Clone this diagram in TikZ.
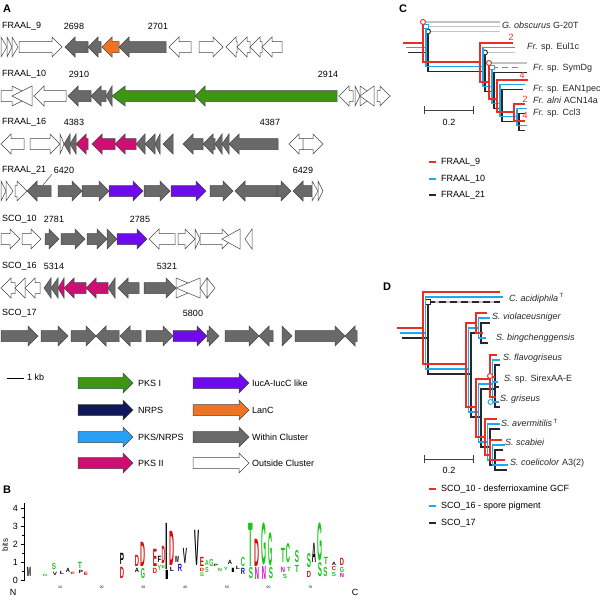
\documentclass[tikz,border=0pt]{standalone}
\usepackage{fontspec}
\setmainfont{Liberation Sans}
\usepackage{graphicx}
\usetikzlibrary{positioning}

\definecolor{pksIc}{RGB}{60,150,20}
\definecolor{nrpsc}{RGB}{15,25,90}
\definecolor{hybc}{RGB}{40,160,245}
\definecolor{pksIIc}{RGB}{205,15,115}
\definecolor{iucc}{RGB}{110,10,235}
\definecolor{lancc}{RGB}{240,115,35}
\definecolor{withinc}{RGB}{105,105,105}
\definecolor{edgec}{RGB}{70,70,70}
\definecolor{tred}{RGB}{235,45,35}
\definecolor{tblue}{RGB}{25,170,240}
\definecolor{tblack}{RGB}{40,40,40}
\definecolor{tgray}{RGB}{195,195,195}
\definecolor{lgreen}{RGB}{20,200,20}
\definecolor{lred}{RGB}{215,10,10}
\definecolor{lblue}{RGB}{10,10,210}
\definecolor{lmag}{RGB}{205,0,205}

\newcommand{\lab}{\fontsize{9}{10.5}\selectfont}
% gene arrows: [head]{left}{right}{row y}{style}
\newcommand{\gR}[5][10]{%
  \pgfmathsetmacro{\gtip}{max(#2,#3-#1)}%
  \draw[gene,#5] (#2,#4-5.5) -- (\gtip,#4-5.5) -- (\gtip,#4-10) -- (#3,#4)
    -- (\gtip,#4+10) -- (\gtip,#4+5.5) -- (#2,#4+5.5) -- cycle;}
\newcommand{\gL}[5][10]{%
  \pgfmathsetmacro{\gtip}{min(#3,#2+#1)}%
  \draw[gene,#5] (#3,#4-5.5) -- (\gtip,#4-5.5) -- (\gtip,#4-10) -- (#2,#4)
    -- (\gtip,#4+10) -- (\gtip,#4+5.5) -- (#3,#4+5.5) -- cycle;}
% logo letter: [width]{x}{bottom}{height}{colour}{letter}
\newcommand{\seqlet}[6][4.2]{\node[inner sep=0pt,anchor=south,text=#5] at (#2,#3-0.4)
  {\resizebox*{#1pt}{\dimexpr#4pt-0.8pt\relax}{\bfseries #6}};}

\begin{document}
\begin{tikzpicture}[x=1pt,y=-1pt,
  every node/.style={font=\lab,inner sep=0pt},
  panel/.style={font=\fontsize{11}{12}\selectfont\bfseries},
  gene/.style={draw=edgec,line width=0.5pt,line join=miter},
  outg/.style={fill=white}, ing/.style={fill=withinc},
  pksIg/.style={fill=pksIc}, nrpsg/.style={fill=nrpsc},
  hybg/.style={fill=hybc}, pksIIg/.style={fill=pksIIc},
  iucg/.style={fill=iucc}, lancg/.style={fill=lancc},
  br/.style={line width=1.1pt},
  cmark/.style={circle,draw,fill=white,line width=0.9pt,minimum size=5pt},
  smark/.style={rectangle,draw,fill=white,line width=0.9pt,minimum size=4.5pt},
  taxon/.style={anchor=west,text=black!85},
]
\useasboundingbox (0,0) rectangle (600,600);

%% panel A
\node[panel] (pA) at (7,9) {A};
\node[anchor=west] (c9) at (2,26) {FRAAL\_9};
\node (n2698) at (74,26) {2698};
\node (n2701) at (158,26) {2701};
\gR{1}{7}{47}{outg} \gR{7}{12}{47}{outg} \gR{12}{18}{47}{outg}
\gR{19}{62}{47}{outg}
\gL{65}{88}{47}{ing} \gL{88}{101}{47}{ing} \gL{102}{119}{47}{lancg}
\gL{119}{166}{47}{ing}
\gL{169}{191}{47}{outg} \gR{199}{223}{47}{outg}
\gL{226}{237}{47}{outg} \gL{237}{250}{47}{outg} \gL{250}{262}{47}{outg}
\gL{262}{282}{47}{outg}

\node[anchor=west] (c10) at (2,74) {FRAAL\_10};
\node (n2910) at (79,74) {2910};
\node (n2914) at (328,74) {2914};
\gR[20]{1}{32}{96}{outg} \gL[20]{12}{32}{96}{outg}
\gL{34}{66}{96}{outg}
\gL{68}{91}{96}{ing} \gL{91}{106}{96}{ing} \gL{106}{112}{96}{ing}
\gL[13]{112}{195}{96}{pksIg} \gL{195}{337}{96}{pksIg}
\gL{339}{353}{96}{outg} \gR{355}{360}{96}{outg}
\gR[14]{360}{374}{96}{outg} \gL[14]{360}{374}{96}{outg}
\gR{377}{390}{96}{outg}

\node[anchor=west] (c16) at (2,122) {FRAAL\_16};
\node (n4383) at (74,122) {4383};
\node (n4387) at (270,122) {4387};
\gL{1}{24}{144}{outg} \gR{30}{60}{144}{outg} \gR{60}{64}{144}{outg}
\gL{64}{70}{144}{ing} \gL{70}{76}{144}{ing}
\gL{76}{88}{144}{pksIIg} \gL{92}{115}{144}{pksIIg} \gL{115}{136}{144}{pksIIg}
\gL{136}{145}{144}{ing} \gL{145}{155}{144}{ing} \gL{155}{160}{144}{ing}
\gL{163}{173}{144}{ing}
\gL{183}{203}{144}{ing} \gL{203}{215}{144}{ing} \gL{215}{222}{144}{ing}
\gL{222}{229}{144}{ing} \gL{229}{278}{144}{ing}
\gL{289}{303}{144}{outg} \gR{303}{323}{144}{outg}

\node[anchor=west] (c21) at (2,170) {FRAAL\_21};
\node (n6420) at (64,170) {6420};
\node (n6429) at (303,170) {6429};
\draw[edgec,line width=0.5pt] (n6420.south west) ++(-2,1) coordinate (lead) -- (43,185);
\gR{1}{6}{191}{outg} \gR{6}{13}{191}{outg} \gR{15}{27}{191}{outg}
\gL{27}{51}{191}{ing}
\gR{58}{82}{191}{ing} \gR{82}{109}{191}{ing} \gR{109}{143}{191}{iucg}
\gR{144}{170}{191}{ing} \gR{171}{206}{191}{iucg}
\gR{210}{233}{191}{ing} \gL{235}{277}{191}{ing} \gR{277}{291}{191}{ing}
\gL{293}{312}{191}{ing}
\gR{312}{318}{191}{outg} \gR{318}{323}{191}{outg}

\node[anchor=west] (s10) at (2,219) {SCO\_10};
\node (n2781) at (54,219) {2781};
\node (n2785) at (140,219) {2785};
\gR{1}{20}{239}{outg} \gR{22}{41}{239}{outg}
\gR{45}{59}{239}{ing} \gR{61}{85}{239}{ing} \gR{87}{107}{239}{ing}
\gR{107}{117}{239}{ing} \gR{117}{147}{239}{iucg}
\gL{149}{175}{239}{outg} \gR{178}{195}{239}{outg} \gR{195}{200}{239}{outg}
\gR{200}{232}{239}{outg} \gL[18]{222}{240}{239}{outg}
\gL{245}{252}{239}{outg}

\node[anchor=west] (s16) at (2,266) {SCO\_16};
\node (n5314) at (54,266) {5314};
\node (n5321) at (167,266) {5321};
\gL{1}{15}{288}{outg} \gL{15}{25}{288}{outg} \gL{25}{40}{288}{outg}
\gL{44}{51}{288}{ing} \gL{51}{58}{288}{ing} \gL{58}{64}{288}{pksIIg}
\gL{64}{86}{288}{pksIIg} \gL{86}{108}{288}{pksIIg}
\gL{108}{115}{288}{ing} \gL{118}{139}{288}{ing} \gR{144}{176}{288}{ing}
\gR[24]{176}{200}{288}{outg} \gL[24]{176}{200}{288}{outg}
\gL{200}{207}{288}{outg} \gR{207}{215}{288}{outg}

\node[anchor=west] (s17) at (2,313) {SCO\_17};
\node (n5800) at (193,313) {5800};
\gR{1}{38}{336}{ing} \gR{41}{68}{336}{ing} \gR{71}{96}{336}{ing}
\gL{96}{119}{336}{ing} \gL{120}{141}{336}{ing} \gR{146}{173}{336}{ing}
\gR{173}{207}{336}{iucg} \gR{207}{219}{336}{ing}
\gR{225}{259}{336}{ing} \gL{259}{273}{336}{ing}
\gR{282}{292}{336}{ing} \gR{295}{345}{336}{ing} \gL{345}{357}{336}{ing}

% scale and legend
\coordinate (kb0) at (7,378);
\coordinate (kb1) at (24,378);
\draw[line width=0.8pt] (kb0) -- (kb1);
\node[anchor=west] (kb) at (27,377) {1 kb};
\gR{78}{133}{383}{pksIg}  \node[anchor=west] (l1) at (138,383) {PKS I};
\gR{78}{133}{410}{nrpsg}  \node[anchor=west] (l2) at (138,410) {NRPS};
\gR{78}{133}{437}{hybg}   \node[anchor=west] (l3) at (138,437) {PKS/NRPS};
\gR{78}{133}{463}{pksIIg} \node[anchor=west] (l4) at (138,463) {PKS II};
\gR{193}{249}{383}{iucg}  \node[anchor=west] (l5) at (252,383) {IucA-IucC like};
\gR{193}{249}{410}{lancg} \node[anchor=west] (l6) at (252,410) {LanC};
\gR{193}{249}{437}{ing}   \node[anchor=west] (l7) at (252,437) {Within Cluster};
\gR{193}{249}{463}{outg}  \node[anchor=west] (l8) at (252,463) {Outside Cluster};

%% panel B
\node[panel] (pB) at (7,490) {B};
\draw[line width=0.6pt] (24,503) -- (24,581);
\foreach \b in {0,...,4} {
  \draw[line width=0.6pt] (24,580-18*\b) -- (20.5,580-18*\b);
  \node[anchor=east] (t\b) at (18,580-18*\b) {\b};
}
\foreach \b in {0.5,1.5,2.5,3.5} \draw[line width=0.5pt] (24,580-18*\b) -- (22.3,580-18*\b);
\node[rotate=90,font=\fontsize{8}{9}\selectfont] (bits) at (5,545) {bits};
\node (nN) at (13,592) {N};
\node (nC) at (355,592) {C};
\foreach \p in {10,20,...,70}
  \node[font=\fontsize{3.5}{4}\selectfont] at ({60+(\p-10)*4.17},587.5) {\p};
\seqlet{29}{577}{10}{black}{M}
\seqlet{45}{577}{3}{lgreen}{N}
\seqlet{54}{570}{7}{lgreen}{S} \seqlet{55}{576}{4}{black}{V}
\seqlet{62}{575}{4}{black}{L}
\seqlet{68}{573}{5}{black}{A} \seqlet{73}{575}{3}{lred}{E}
\seqlet{80}{569}{7}{lgreen}{T} \seqlet{81}{574}{4}{black}{P} \seqlet{86}{576}{4}{lred}{E}
\seqlet{122}{565}{12}{black}{P} \seqlet{122}{579}{12}{lred}{D}
\seqlet{137}{567}{12}{lred}{D} \seqlet{137}{573}{5}{black}{A}
\seqlet[5]{143}{567}{25}{lred}{D} \seqlet{143}{579}{11}{lgreen}{G}
\seqlet{155}{567}{18}{lred}{E} \seqlet{155}{574}{6}{lred}{D}
\seqlet[3.6]{159.5}{563}{7}{black}{F} \seqlet[3.6]{159.5}{571}{6}{lgreen}{Y}
\seqlet[3.6]{163.5}{564}{18}{lred}{D} \seqlet[3.6]{163.5}{569}{4}{lgreen}{E}
\seqlet[2.5]{167}{570}{47}{black}{I} \seqlet[4.6]{167}{580}{10}{black}{I}
\seqlet[5]{172}{566}{35}{lred}{D} \seqlet{172}{572}{5}{black}{L}
\seqlet{177}{563}{7}{black}{W} \seqlet{180}{572}{8}{lblue}{R}
\seqlet{185}{564}{16}{black}{V}
\seqlet[5]{197}{566}{36}{black}{V} \seqlet{202}{567}{10}{lred}{E}
\seqlet{202}{572}{4}{lred}{D} \seqlet{202}{577}{4.5}{lgreen}{S}
\seqlet[3.6]{207}{566}{6}{lgreen}{A} \seqlet[3.6]{207}{573}{6}{lgreen}{S}
\seqlet{211.5}{567}{8}{lgreen}{G}
\seqlet{216}{567}{3}{black}{P} \seqlet{220}{572}{4}{lgreen}{N} \seqlet{226}{571}{4}{lgreen}{Y}
\seqlet{230}{565}{5}{black}{A} \seqlet{233}{573}{5}{black}{I} \seqlet{238}{570}{4}{black}{L}
\seqlet{243}{567}{10}{lgreen}{C} \seqlet{243}{575}{7}{lblue}{R}
\seqlet[4.6]{251}{567}{44}{lgreen}{T} \seqlet{251}{579}{12}{lgreen}{S}
\seqlet[5]{257}{567}{28}{lred}{D} \seqlet{257}{580}{13}{lmag}{N}
\seqlet[5]{264}{566}{43}{lgreen}{G} \seqlet{264}{580}{14}{lmag}{N}
\seqlet{271}{567}{34}{lgreen}{G} \seqlet{271}{579}{12}{lgreen}{S}
\seqlet{283}{563}{15}{lgreen}{T} \seqlet{283}{573}{6}{lmag}{N} \seqlet{285}{579}{5}{lgreen}{S}
\seqlet{288}{563}{20}{lgreen}{C} \seqlet{289}{572}{5}{lgreen}{T}
\seqlet{297}{563}{13}{lgreen}{S} \seqlet{297}{573}{8}{lgreen}{T}
\seqlet{309}{568}{15}{lgreen}{S} \seqlet{309}{578}{7}{lred}{D}
\seqlet{314}{563}{20}{black}{A}
\seqlet[5]{319.5}{562}{39}{lgreen}{G} \seqlet{320}{577}{15}{lgreen}{S}
\seqlet{326}{565}{8}{lgreen}{T} \seqlet{325.5}{577}{10}{lgreen}{S}
\seqlet{334}{566}{4}{black}{A} \seqlet{334}{571}{5}{lred}{C} \seqlet{334}{577}{5}{lgreen}{S}
\seqlet{342}{566}{8}{lred}{D} \seqlet{342}{573}{6}{lgreen}{G} \seqlet{342}{578}{5}{lmag}{N}

%% panel C
\node[panel] (pC) at (403,9) {C};
% FRAAL_21
\begin{scope}[shift={(5,9.5)}]
  \draw[br,tgray] (423,22) -- (495,22);
  \draw[br,tgray] (480,43) -- (510,43);
  \draw[br,tblack] (403,43) -- (423,43);
  \draw[br,tblack] (423,22) -- (423,62) -- (480,62);
  \draw[br,tblack] (480,43) -- (480,82) -- (489,82);
  \draw[br,tblack] (522,63) -- (489,63) -- (489,99) -- (497,99);
  \draw[br,tblack] (518,80) -- (497,80) -- (497,112) -- (514,112);
  \draw[br,tblack] (520,104) -- (514,104) -- (514,121) -- (520,121);
  \node[cmark,draw=tblack] (k1) at (423,22) {};
  \node[cmark,draw=tblack] (k2) at (480,43) {};
\end{scope}
% FRAAL_10
\begin{scope}[shift={(3,4.5)}]
  \draw[br,tgray] (423,22) -- (497,22);
  \draw[br,tblue] (403,43) -- (423,43);
  \draw[br,tblue] (423,22) -- (423,62) -- (480,62);
  \draw[br,tblue] (512,43) -- (480,43) -- (480,82) -- (489,82);
  \draw[br,tblue,dash pattern=on 6pt off 4pt] (489,63) -- (519,63);
  \draw[br,tblue] (489,63) -- (489,99) -- (497,99);
  \draw[br,tblue] (522,80) -- (497,80) -- (497,112) -- (514,112);
  \draw[br,tblue] (524,104) -- (514,104) -- (514,121) -- (524,121);
  \node[smark,draw=tblue] (b1) at (423,22) {};
  \node[smark,draw=tblue] (b2) at (489,63) {};
\end{scope}
% FRAAL_9
\draw[br,tgray] (423,22) -- (500,22);
\draw[br,tgray] (489,63) -- (527,63);
\draw[br,tred] (403,43) -- (423,43);
\draw[br,tred] (423,22) -- (423,62) -- (480,62);
\draw[br,tred] (513,43) -- (480,43) -- (480,82) -- (489,82);
\draw[br,tred] (489,63) -- (489,99) -- (497,99);
\draw[br,tred] (528,80) -- (497,80) -- (497,112) -- (514,112);
\draw[br,tred] (525,104) -- (514,104) -- (514,121) -- (525,121);
\node[cmark,draw=tred] (r1) at (423,22) {};
\node[cmark,draw=tred] (r2) at (489,63) {};
\node[text=tred] (x1) at (511,37) {2};
\node[text=tred] (x2) at (522,75) {4};
\node[text=tred] (x3) at (525,99) {2};
\node[text=tred] (x4) at (525,115) {4};
\node[taxon] (gob) at (502,25) {\textit{G. obscurus} G-20T};
\node[taxon] (eul) at (527,47) {\textit{Fr.} sp. Eul1c};
\node[taxon] (sym) at (533,68) {\textit{Fr.} sp. SymDg};
\node[taxon] (ean) at (533,89) {\textit{Fr.} sp. EAN1pec};
\node[taxon] (acn) at (533,100.5) {\textit{Fr. alni} ACN14a};
\node[taxon] (ccl) at (533,113) {\textit{Fr.} sp. Ccl3};
\draw[line width=0.8pt,black!75] (424,106) -- (424,114) (424,110) -- (473,110) (473,106) -- (473,114);
\node (sc1) at (449,122) {0.2};
\draw[br,tred] (429,162) -- (436,162);
\node[anchor=west] (f9) at (441,162) {FRAAL\_9};
\draw[br,tblue] (429,179) -- (436,179);
\node[anchor=west] (f10) at (441,179) {FRAAL\_10};
\draw[br,tblack] (429,195) -- (436,195);
\node[anchor=west] (f21) at (441,195) {FRAAL\_21};

%% panel D
\node[panel] (pD) at (387,287) {D};
% SCO_17
\begin{scope}[shift={(5,10)}]
  \draw[br,tgray] (423,292) -- (495,292);
  \draw[br,tblack,dash pattern=on 7pt off 4pt] (423,292) -- (495,292);
  \draw[br,tblack] (397,328) -- (423,328);
  \draw[br,tblack] (423,292) -- (423,364) -- (466,364);
  \draw[br,tblack] (476,323) -- (466,323) -- (466,407) -- (476,407);
  \draw[br,tblack] (485,313) -- (476,313) -- (476,333) -- (483,333);
  \draw[br,tblack] (490,379) -- (476,379) -- (476,437) -- (485,437);
  \draw[br,tblack] (495,355) -- (490,355) -- (490,397) -- (495,397);
  \draw[br,tblack] (490,377) -- (494,377);
  \draw[br,tblack] (495,419) -- (485,419) -- (485,455) -- (490,455);
  \draw[br,tblack] (498,440) -- (490,440) -- (490,460) -- (502,460);
  \node[smark,draw=tblack] (dk1) at (423,292) {};
\end{scope}
% SCO_16
\begin{scope}[shift={(2.5,5)}]
  \draw[br,tblue] (397,328) -- (423,328);
  \draw[br,tblue] (500,292) -- (423,292) -- (423,364) -- (466,364);
  \draw[br,tblue] (476,323) -- (466,323) -- (466,407) -- (476,407);
  \draw[br,tblue] (487,313) -- (476,313) -- (476,333) -- (483,333);
  \draw[br,tblue] (490,379) -- (476,379) -- (476,437) -- (485,437);
  \draw[br,tblue] (497,355) -- (490,355) -- (490,397) -- (496,397);
  \draw[br,tblue] (490,377) -- (495,377);
  \draw[br,tblue] (497,419) -- (485,419) -- (485,455) -- (490,455);
  \draw[br,tblue] (502,440) -- (490,440) -- (490,460) -- (505,460);
  \node[cmark,draw=tblue] (db1) at (488,397) {};
\end{scope}
% SCO_10
\draw[br,tred] (397,328) -- (423,328);
\draw[br,tred] (500,292) -- (423,292) -- (423,364) -- (466,364);
\draw[br,tred] (476,323) -- (466,323) -- (466,407) -- (476,407);
\draw[br,tred] (487,313) -- (476,313) -- (476,333) -- (483,333);
\draw[br,tred] (490,379) -- (476,379) -- (476,437) -- (485,437);
\draw[br,tred] (497,355) -- (490,355) -- (490,397) -- (496,397);
\draw[br,tred] (490,377) -- (495,377);
\draw[br,tred] (497,419) -- (485,419) -- (485,455) -- (490,455);
\draw[br,tred] (502,440) -- (490,440) -- (490,460) -- (505,460);
\node[cmark,draw=tred] (dr1) at (490,376) {};
\node[taxon] (aci) at (509,298) {\textit{C. acidiphila}\,\textsuperscript{T}};
\node[taxon] (vio) at (492,317) {\textit{S. violaceusniger}};
\node[taxon] (bin) at (496,338) {\textit{S. bingchenggensis}};
\node[taxon] (fla) at (503,358) {\textit{S. flavogriseus}};
\node[taxon] (sir) at (504,379) {\textit{S.} sp. SirexAA-E};
\node[taxon] (gri) at (500,399) {\textit{S. griseus}};
\node[taxon] (ave) at (501,423) {\textit{S. avermitilis}\,\textsuperscript{T}};
\node[taxon] (sca) at (505,442) {\textit{S. scabiei}};
\node[taxon] (coe) at (510,463) {\textit{S. coelicolor} A3(2)};
\draw[line width=0.8pt,black!75] (424,455) -- (424,463) (424,459) -- (473,459) (473,455) -- (473,463);
\node (sc2) at (449,470) {0.2};
\draw[br,tred] (429,489) -- (436,489);
\node[anchor=west] (g10) at (441,489) {SCO\_10 - desferrioxamine GCF};
\draw[br,tblue] (429,506) -- (436,506);
\node[anchor=west] (g16) at (441,506) {SCO\_16 - spore pigment};
\draw[br,tblack] (429,523) -- (436,523);
\node[anchor=west] (g17) at (441,523) {SCO\_17};
\end{tikzpicture}
\end{document}
